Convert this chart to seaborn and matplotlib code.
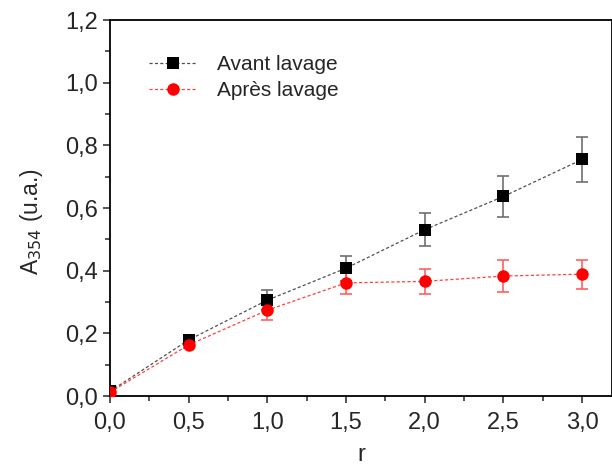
import matplotlib
matplotlib.use("Agg")
import matplotlib.pyplot as plt
import seaborn as sns
import pandas as pd
from matplotlib.ticker import MultipleLocator, FuncFormatter

r = [0.0, 0.5, 1.0, 1.5, 2.0, 2.5, 3.0]
avant = [0.015, 0.179, 0.306, 0.408, 0.531, 0.637, 0.755]
avant_err = [0.005, 0.012, 0.032, 0.04, 0.052, 0.065, 0.072]
apres = [0.012, 0.163, 0.274, 0.361, 0.366, 0.383, 0.389]
apres_err = [0.005, 0.01, 0.03, 0.035, 0.04, 0.05, 0.046]
labels = ["Avant lavage", "Après lavage"]

sns.set_style("ticks")
plt.rcParams['font.family'] = ['Liberation Sans', 'DejaVu Sans']

fig = plt.figure(figsize=(6.12, 4.67), dpi=100)
ax = fig.add_axes([0.1797, 0.152, 0.8203, 0.805])

df = pd.DataFrame({"r": r * 2, "A": avant + apres,
                   "serie": [labels[0]] * len(r) + [labels[1]] * len(r)})

sns.lineplot(data=df, x="r", y="A", hue="serie", style="serie",
             palette={labels[0]: "black", labels[1]: "red"},
             markers={labels[0]: "s", labels[1]: "o"},
             dashes={labels[0]: (2.5, 1.8), labels[1]: (2.5, 1.8)},
             markersize=9, linewidth=0.9, markeredgewidth=0, ax=ax,
             zorder=3, legend=False)
lines = ax.get_lines()[:2]
for ln, lc, mc, lb in zip(lines, ["#505050", "#ff4040"], ["black", "red"], labels):
    ln.set_color(lc)
    ln.set_markerfacecolor(mc)
    ln.set_markeredgecolor(mc)
    ln.set_label(lb)

ax.errorbar(r, avant, yerr=avant_err, fmt='none', ecolor='#707070', elinewidth=1.2,
            capsize=4, capthick=1.2, zorder=2)
ax.errorbar(r, apres, yerr=apres_err, fmt='none', ecolor='#ff6060', elinewidth=1.2,
            capsize=4, capthick=1.2, zorder=2)

ax.set_xlim(0, 3.19)
ax.set_ylim(0, 1.2)
ax.xaxis.set_major_locator(MultipleLocator(0.5))
ax.xaxis.set_minor_locator(MultipleLocator(0.25))
ax.yaxis.set_major_locator(MultipleLocator(0.2))
ax.yaxis.set_minor_locator(MultipleLocator(0.1))
fmt = FuncFormatter(lambda v, p: f"{v:.1f}".replace(".", ","))
ax.xaxis.set_major_formatter(fmt)
ax.yaxis.set_major_formatter(fmt)
ax.tick_params(which='major', length=5, width=1.1, labelsize=17, direction='out')
ax.tick_params(which='minor', length=3.4, width=1.1, direction='out')
ax.tick_params(axis='x', which='major', pad=6.5)
ax.tick_params(axis='y', which='major', pad=3.5)
for s in ax.spines.values():
    s.set_linewidth(1.3)
    s.set_color('black')

ax.set_xlabel("r", fontsize=17, labelpad=7)
ax.set_ylabel("A$_{354}$ (u.a.)", fontsize=16.5)
ax.yaxis.set_label_coords(-0.13, 0.465)

leg = ax.legend(handles=lines, loc='upper left', bbox_to_anchor=(0.04, 0.957), frameon=False,
                fontsize=15, handlelength=2.3, handletextpad=0.96, labelspacing=0.35)

fig.savefig("out.png", dpi=100)
